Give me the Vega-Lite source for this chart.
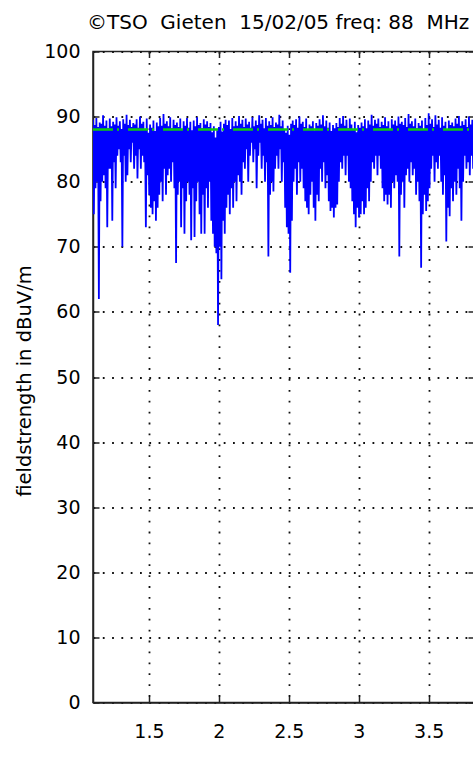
{
"$schema":"https://vega.github.io/schema/vega-lite/v6.json",
"autosize":{"type":"none"},
"width":381,"height":651,
"padding":{"left":93,"top":51.5,"right":0,"bottom":80},
"background":"white",
"title":{"text":"©TSO\u00a0 Gieten\u00a0 15/02/05 freq: 88\u00a0 MHz","anchor":"start","frame":"group","dx":-6,"offset":-6,"baseline":"alphabetic","font":"DejaVu Sans","fontSize":20,"fontWeight":"normal","color":"#000"},
"config":{
"view":{"stroke":"#222","strokeWidth":1.5},
"axis":{"zindex":1,"domainColor":"#222","domainWidth":1.5,"tickColor":"#222","tickWidth":1.5,"tickSize":-6,"gridColor":"#111","gridWidth":1.8,"labelFont":"DejaVu Sans","labelFontSize":19,"labelColor":"#000","titleFont":"DejaVu Sans","titleFontSize":19.5,"titleFontWeight":"normal","titleColor":"#000"}
},
"datasets":{"sig":[
{"t":1.1,"v":89.5},{"t":1.106,"v":75},{"t":1.112,"v":88.7},{"t":1.118,"v":79},{"t":1.124,"v":89.8},{"t":1.13,"v":80},{"t":1.136,"v":88.4},{"t":1.142,"v":62},{"t":1.148,"v":89.1},{"t":1.154,"v":77},
{"t":1.16,"v":88.9},{"t":1.166,"v":80},{"t":1.172,"v":90.2},{"t":1.178,"v":81},{"t":1.184,"v":88.6},{"t":1.19,"v":79},{"t":1.196,"v":89.4},{"t":1.202,"v":73},{"t":1.208,"v":88.2},{"t":1.214,"v":82},
{"t":1.22,"v":89.7},{"t":1.226,"v":82},{"t":1.232,"v":88.5},{"t":1.238,"v":74},{"t":1.244,"v":89.2},{"t":1.25,"v":83},{"t":1.256,"v":88.8},{"t":1.262,"v":79},{"t":1.268,"v":89.9},{"t":1.274,"v":84},
{"t":1.28,"v":88.6},{"t":1.286,"v":85},{"t":1.292,"v":89.3},{"t":1.298,"v":83},{"t":1.304,"v":88.1},{"t":1.31,"v":70},{"t":1.316,"v":89.6},{"t":1.322,"v":84},{"t":1.328,"v":88.9},{"t":1.334,"v":80},
{"t":1.34,"v":90.3},{"t":1.346,"v":81},{"t":1.352,"v":88.7},{"t":1.358,"v":85},{"t":1.364,"v":89.5},{"t":1.37,"v":83},{"t":1.376,"v":88.4},{"t":1.382,"v":86},{"t":1.388,"v":89},{"t":1.394,"v":82},
{"t":1.4,"v":88.8},{"t":1.406,"v":84},{"t":1.412,"v":89.6},{"t":1.418,"v":80.5},{"t":1.424,"v":88.3},{"t":1.43,"v":85},{"t":1.436,"v":90},{"t":1.442,"v":82},{"t":1.448,"v":88.9},{"t":1.454,"v":84},
{"t":1.46,"v":89.2},{"t":1.466,"v":83},{"t":1.472,"v":88},{"t":1.478,"v":73},{"t":1.484,"v":89.7},{"t":1.49,"v":81},{"t":1.496,"v":87.5},{"t":1.502,"v":78},{"t":1.508,"v":88.8},{"t":1.514,"v":76},
{"t":1.52,"v":88.3},{"t":1.526,"v":75},{"t":1.532,"v":89.4},{"t":1.538,"v":77},{"t":1.544,"v":87.8},{"t":1.55,"v":74},{"t":1.556,"v":89.1},{"t":1.562,"v":76},{"t":1.568,"v":88.5},{"t":1.574,"v":78},
{"t":1.58,"v":89.8},{"t":1.586,"v":80},{"t":1.592,"v":88.6},{"t":1.598,"v":77},{"t":1.604,"v":90.4},{"t":1.61,"v":82},{"t":1.616,"v":88.9},{"t":1.622,"v":78},{"t":1.628,"v":89.3},{"t":1.634,"v":81},
{"t":1.64,"v":88.5},{"t":1.646,"v":82},{"t":1.652,"v":89.9},{"t":1.658,"v":80},{"t":1.664,"v":88.2},{"t":1.67,"v":83},{"t":1.676,"v":89.5},{"t":1.682,"v":79},{"t":1.688,"v":88.7},{"t":1.694,"v":67.5},
{"t":1.7,"v":89.1},{"t":1.706,"v":78},{"t":1.712,"v":88.4},{"t":1.718,"v":80},{"t":1.724,"v":89.7},{"t":1.73,"v":73},{"t":1.736,"v":88},{"t":1.742,"v":79},{"t":1.748,"v":89.3},{"t":1.754,"v":72},
{"t":1.76,"v":88.6},{"t":1.766,"v":77},{"t":1.772,"v":89.8},{"t":1.778,"v":80},{"t":1.784,"v":88.3},{"t":1.79,"v":78},{"t":1.796,"v":89.2},{"t":1.802,"v":71},{"t":1.808,"v":87.9},{"t":1.814,"v":79},
{"t":1.82,"v":89.4},{"t":1.826,"v":71.5},{"t":1.832,"v":88.5},{"t":1.838,"v":77},{"t":1.844,"v":89.9},{"t":1.85,"v":80},{"t":1.856,"v":88.7},{"t":1.862,"v":75},{"t":1.868,"v":89},{"t":1.874,"v":72},
{"t":1.88,"v":88.2},{"t":1.886,"v":78},{"t":1.892,"v":89.6},{"t":1.898,"v":72},{"t":1.904,"v":88.8},{"t":1.91,"v":79},{"t":1.916,"v":89.3},{"t":1.922,"v":76},{"t":1.928,"v":88.4},{"t":1.934,"v":80},
{"t":1.94,"v":89},{"t":1.946,"v":74},{"t":1.952,"v":87.6},{"t":1.958,"v":72},{"t":1.964,"v":88.5},{"t":1.97,"v":70},{"t":1.976,"v":86.8},{"t":1.982,"v":69},{"t":1.988,"v":87.9},{"t":1.994,"v":58},
{"t":2.0,"v":88.4},{"t":2.006,"v":70},{"t":2.012,"v":89.2},{"t":2.018,"v":65},{"t":2.024,"v":87.7},{"t":2.03,"v":74},{"t":2.036,"v":88.9},{"t":2.042,"v":72},{"t":2.048,"v":89.5},{"t":2.054,"v":76},
{"t":2.06,"v":88.7},{"t":2.066,"v":78},{"t":2.072,"v":89.4},{"t":2.078,"v":75},{"t":2.084,"v":88.1},{"t":2.09,"v":79},{"t":2.096,"v":89.8},{"t":2.102,"v":76},{"t":2.108,"v":88.5},{"t":2.114,"v":80},
{"t":2.12,"v":89.3},{"t":2.126,"v":77},{"t":2.132,"v":88.6},{"t":2.138,"v":81},{"t":2.144,"v":90.1},{"t":2.15,"v":80},{"t":2.156,"v":88.9},{"t":2.162,"v":78},{"t":2.168,"v":89.5},{"t":2.174,"v":83},
{"t":2.18,"v":88.4},{"t":2.186,"v":82},{"t":2.192,"v":89.7},{"t":2.198,"v":85},{"t":2.204,"v":88.8},{"t":2.21,"v":80},{"t":2.216,"v":89.2},{"t":2.222,"v":84},{"t":2.228,"v":88.3},{"t":2.234,"v":86},
{"t":2.24,"v":89.9},{"t":2.246,"v":83},{"t":2.252,"v":88.5},{"t":2.258,"v":85},{"t":2.264,"v":89.4},{"t":2.27,"v":79},{"t":2.276,"v":88.7},{"t":2.282,"v":84},{"t":2.288,"v":90.2},{"t":2.294,"v":86},
{"t":2.3,"v":88.9},{"t":2.306,"v":82},{"t":2.312,"v":89.5},{"t":2.318,"v":84},{"t":2.324,"v":88.2},{"t":2.33,"v":80},{"t":2.336,"v":89.8},{"t":2.342,"v":83},{"t":2.348,"v":88.6},{"t":2.354,"v":68.5},
{"t":2.36,"v":89.3},{"t":2.366,"v":78},{"t":2.372,"v":88.7},{"t":2.378,"v":80},{"t":2.384,"v":89.9},{"t":2.39,"v":78.5},{"t":2.396,"v":88.4},{"t":2.402,"v":82},{"t":2.408,"v":89.1},{"t":2.414,"v":84},
{"t":2.42,"v":88.8},{"t":2.426,"v":82},{"t":2.432,"v":90.3},{"t":2.438,"v":85},{"t":2.444,"v":88.5},{"t":2.45,"v":80},{"t":2.456,"v":89.4},{"t":2.462,"v":83},{"t":2.468,"v":88},{"t":2.474,"v":76},
{"t":2.48,"v":87.5},{"t":2.486,"v":73},{"t":2.492,"v":88.6},{"t":2.498,"v":72},{"t":2.504,"v":87.2},{"t":2.51,"v":66},{"t":2.516,"v":88.9},{"t":2.522,"v":74},{"t":2.528,"v":89.4},{"t":2.534,"v":80},
{"t":2.54,"v":88.7},{"t":2.546,"v":82},{"t":2.552,"v":89.6},{"t":2.558,"v":78},{"t":2.564,"v":88.3},{"t":2.57,"v":83},{"t":2.576,"v":90},{"t":2.582,"v":80},{"t":2.588,"v":88.9},{"t":2.594,"v":82},
{"t":2.6,"v":89.2},{"t":2.606,"v":79},{"t":2.612,"v":88.4},{"t":2.618,"v":77},{"t":2.624,"v":89.7},{"t":2.63,"v":76},{"t":2.636,"v":88.1},{"t":2.642,"v":75},{"t":2.648,"v":88.8},{"t":2.654,"v":78},
{"t":2.66,"v":88.5},{"t":2.666,"v":80},{"t":2.672,"v":89.3},{"t":2.678,"v":76},{"t":2.684,"v":87.9},{"t":2.69,"v":74},{"t":2.696,"v":89},{"t":2.702,"v":78},{"t":2.708,"v":88.6},{"t":2.714,"v":77},
{"t":2.72,"v":89.6},{"t":2.726,"v":82},{"t":2.732,"v":88.8},{"t":2.738,"v":80},{"t":2.744,"v":90.2},{"t":2.75,"v":83},{"t":2.756,"v":88.5},{"t":2.762,"v":79},{"t":2.768,"v":89.4},{"t":2.774,"v":81},
{"t":2.78,"v":88.3},{"t":2.786,"v":77},{"t":2.792,"v":89.1},{"t":2.798,"v":75.5},{"t":2.804,"v":87.8},{"t":2.81,"v":76},{"t":2.816,"v":88.7},{"t":2.822,"v":74.5},{"t":2.828,"v":88.2},{"t":2.834,"v":76},
{"t":2.84,"v":89},{"t":2.846,"v":76.5},{"t":2.852,"v":88.4},{"t":2.858,"v":80},{"t":2.864,"v":89.8},{"t":2.87,"v":83},{"t":2.876,"v":88.9},{"t":2.882,"v":82},{"t":2.888,"v":90.1},{"t":2.894,"v":84},
{"t":2.9,"v":88.6},{"t":2.906,"v":81},{"t":2.912,"v":89.5},{"t":2.918,"v":84},{"t":2.924,"v":88.2},{"t":2.93,"v":80},{"t":2.936,"v":89.7},{"t":2.942,"v":79},{"t":2.948,"v":88.8},{"t":2.954,"v":77},
{"t":2.96,"v":88},{"t":2.966,"v":75},{"t":2.972,"v":89.2},{"t":2.978,"v":73},{"t":2.984,"v":87.6},{"t":2.99,"v":76},{"t":2.996,"v":88.7},{"t":3.002,"v":74.5},{"t":3.008,"v":88.3},{"t":3.014,"v":75},
{"t":3.02,"v":89.1},{"t":3.026,"v":77},{"t":3.032,"v":88.5},{"t":3.038,"v":75},{"t":3.044,"v":89.6},{"t":3.05,"v":76},{"t":3.056,"v":88.2},{"t":3.062,"v":79},{"t":3.068,"v":89.4},{"t":3.074,"v":77},
{"t":3.08,"v":88.8},{"t":3.086,"v":80},{"t":3.092,"v":90.3},{"t":3.098,"v":83},{"t":3.104,"v":88.6},{"t":3.11,"v":82},{"t":3.116,"v":89.5},{"t":3.122,"v":84},{"t":3.128,"v":88.9},{"t":3.134,"v":81},
{"t":3.14,"v":89.7},{"t":3.146,"v":84},{"t":3.152,"v":88.4},{"t":3.158,"v":82},{"t":3.164,"v":89.2},{"t":3.17,"v":79},{"t":3.176,"v":88.7},{"t":3.182,"v":77},{"t":3.188,"v":89.9},{"t":3.194,"v":78},
{"t":3.2,"v":88.5},{"t":3.206,"v":76.5},{"t":3.212,"v":89.3},{"t":3.218,"v":78},{"t":3.224,"v":88},{"t":3.23,"v":76},{"t":3.236,"v":89.6},{"t":3.242,"v":80},{"t":3.248,"v":88.8},{"t":3.254,"v":79},
{"t":3.26,"v":89.4},{"t":3.266,"v":81},{"t":3.272,"v":88.6},{"t":3.278,"v":80},{"t":3.284,"v":90},{"t":3.29,"v":68.5},{"t":3.296,"v":88.9},{"t":3.302,"v":78},{"t":3.308,"v":89.2},{"t":3.314,"v":80},
{"t":3.32,"v":88.7},{"t":3.326,"v":76},{"t":3.332,"v":89.8},{"t":3.338,"v":81},{"t":3.344,"v":88.4},{"t":3.35,"v":82},{"t":3.356,"v":90.4},{"t":3.362,"v":80},{"t":3.368,"v":88.9},{"t":3.374,"v":83},
{"t":3.38,"v":89.3},{"t":3.386,"v":81},{"t":3.392,"v":88.5},{"t":3.398,"v":82},{"t":3.404,"v":89.7},{"t":3.41,"v":78},{"t":3.416,"v":88.2},{"t":3.422,"v":80},{"t":3.428,"v":89},{"t":3.434,"v":77},
{"t":3.44,"v":88.6},{"t":3.446,"v":66.8},{"t":3.452,"v":89.4},{"t":3.458,"v":75},{"t":3.464,"v":88.1},{"t":3.47,"v":78},{"t":3.476,"v":89.8},{"t":3.482,"v":75.5},{"t":3.488,"v":88.7},{"t":3.494,"v":77},
{"t":3.5,"v":90.5},{"t":3.506,"v":79},{"t":3.512,"v":88.9},{"t":3.518,"v":82},{"t":3.524,"v":89.6},{"t":3.53,"v":84},{"t":3.536,"v":88.4},{"t":3.542,"v":80},{"t":3.548,"v":90.2},{"t":3.554,"v":83},
{"t":3.56,"v":88.8},{"t":3.566,"v":82},{"t":3.572,"v":89.5},{"t":3.578,"v":84},{"t":3.584,"v":88.3},{"t":3.59,"v":80},{"t":3.596,"v":89.9},{"t":3.602,"v":78},{"t":3.608,"v":88.6},{"t":3.614,"v":81},
{"t":3.62,"v":89.2},{"t":3.626,"v":70.8},{"t":3.632,"v":88},{"t":3.638,"v":76},{"t":3.644,"v":89.4},{"t":3.65,"v":74.7},{"t":3.656,"v":88.7},{"t":3.662,"v":79},{"t":3.668,"v":89.1},{"t":3.674,"v":77},
{"t":3.68,"v":88.5},{"t":3.686,"v":80},{"t":3.692,"v":89.7},{"t":3.698,"v":78},{"t":3.704,"v":88.9},{"t":3.71,"v":82},{"t":3.716,"v":90.1},{"t":3.722,"v":79},{"t":3.728,"v":88.6},{"t":3.734,"v":74},
{"t":3.74,"v":89.3},{"t":3.746,"v":80},{"t":3.752,"v":88.7},{"t":3.758,"v":84},{"t":3.764,"v":89.6},{"t":3.77,"v":82},{"t":3.776,"v":88.4},{"t":3.782,"v":83},{"t":3.788,"v":90},{"t":3.794,"v":81},
{"t":3.8,"v":88.8},{"t":3.806,"v":84},{"t":3.812,"v":89.5},{"t":3.818,"v":82},{"t":3.824,"v":89.1}
],
"ref":[{"level":88}]},
"layer":[
{"data":{"name":"sig"},
 "mark":{"type":"line","color":"#0000ff","strokeWidth":1.8,"clip":true},
 "encoding":{
  "x":{"field":"t","type":"quantitative","scale":{"domain":[1.1,3.824],"nice":false,"zero":false},
       "axis":{"orient":"bottom","values":[1.5,2,2.5,3,3.5],"format":"~g","grid":true,"gridDash":[1.8,9.1],"labelPadding":26,"labelBaseline":"top","title":null}},
  "y":{"field":"v","type":"quantitative","scale":{"domain":[0,100],"nice":false,"zero":false},
       "axis":{"orient":"left","values":[0,10,20,30,40,50,60,70,80,90,100],"grid":true,"gridDash":[1.8,7.5],"labelPadding":19,"title":"fieldstrength in dBuV/m","titleX":-69,"titleY":329,"titleAngle":270,"titleBaseline":"middle","titleAlign":"center"}}
 }},
{"data":{"name":"ref"},
 "mark":{"type":"rule","color":"#10c810","strokeWidth":2.5,"strokeDash":[20,4,2,9]},
 "encoding":{
  "x":{"datum":1.1,"type":"quantitative","scale":{"domain":[1.1,3.824],"nice":false,"zero":false},
       "axis":{"orient":"top","values":[1.5,2,2.5,3,3.5],"labels":false,"grid":false,"domain":false,"title":null,"minExtent":0,"maxExtent":0}},
  "x2":{"datum":3.824},
  "y":{"field":"level","type":"quantitative","scale":{"domain":[0,100],"nice":false,"zero":false},
       "axis":{"orient":"right","values":[0,10,20,30,40,50,60,70,80,90,100],"labels":false,"grid":false,"domain":false,"title":null,"minExtent":0,"maxExtent":0}}
 }}
],
"resolve":{"axis":{"x":"independent","y":"independent"}}
}
